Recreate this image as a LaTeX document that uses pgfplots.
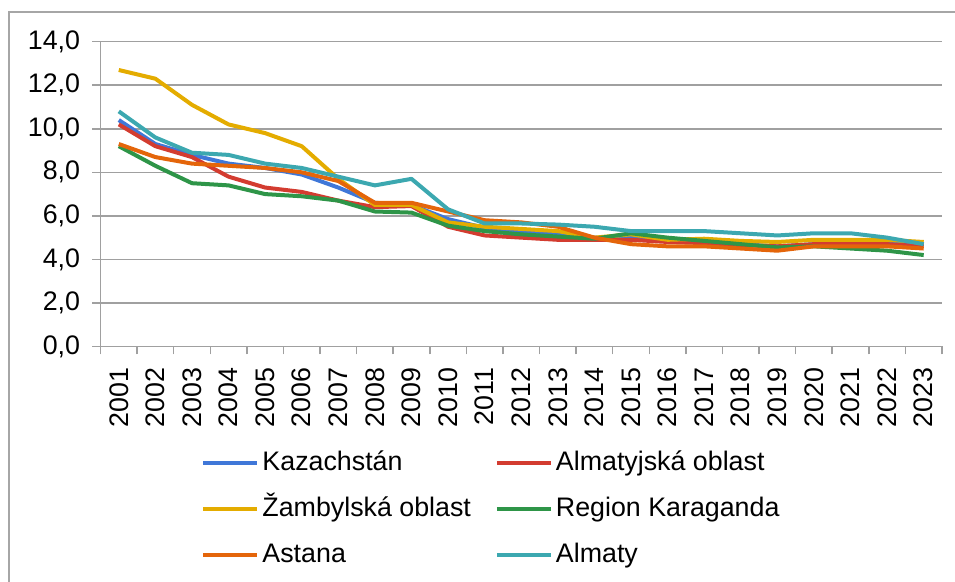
\documentclass[border=0pt]{standalone}
\usepackage{pgfplots}
\pgfplotsset{compat=1.18}
\usepackage{fontspec}
\setmainfont{Liberation Sans}
\definecolor{cKaz}{HTML}{3F77D8}
\definecolor{cAO}{HTML}{D33C30}
\definecolor{cZam}{HTML}{E4AC00}
\definecolor{cKar}{HTML}{2E9548}
\definecolor{cAst}{HTML}{E4650A}
\definecolor{cAlm}{HTML}{3CA8B0}
\definecolor{axGray}{HTML}{A0A0A0}
\definecolor{frGray}{HTML}{A6A6A6}
\pgfplotstableread{
x Kaz AO Zam Kar Ast Alm
0 10.4 10.2 12.7 9.2 9.3 10.8
1 9.3 9.2 12.3 8.3 8.7 9.6
2 8.8 8.7 11.1 7.5 8.4 8.9
3 8.4 7.8 10.2 7.4 8.3 8.8
4 8.2 7.3 9.8 7.0 8.2 8.4
5 7.9 7.1 9.2 6.9 8.0 8.2
6 7.3 6.7 7.7 6.7 7.6 7.8
7 6.6 6.4 6.5 6.2 6.6 7.4
8 6.5 6.45 6.5 6.15 6.6 7.7
9 5.85 5.5 5.7 5.55 6.2 6.3
10 5.45 5.1 5.5 5.3 5.8 5.65
11 5.3 5.0 5.4 5.15 5.7 5.65
12 5.2 4.9 5.3 5.05 5.5 5.6
13 5.0 4.9 5.0 4.95 5.0 5.5
14 5.0 4.9 5.15 5.2 4.7 5.3
15 4.85 4.8 4.9 5.0 4.6 5.3
16 4.8 4.75 4.95 4.85 4.6 5.3
17 4.7 4.65 4.85 4.7 4.5 5.2
18 4.6 4.6 4.8 4.55 4.4 5.1
19 4.7 4.7 4.9 4.6 4.6 5.2
20 4.8 4.7 4.9 4.5 4.6 5.2
21 4.8 4.7 4.9 4.4 4.6 5.0
22 4.7 4.6 4.8 4.2 4.5 4.7
}\data
\begin{document}
\begin{tikzpicture}[font=\fontsize{13.4}{15}\selectfont]
\useasboundingbox (0,0) rectangle (477.5pt,291pt);
\draw[color=frGray, line width=0.75pt] (4.5pt,-2pt) -- (4.5pt,285pt) -- (480pt,285pt);
\begin{axis}[
  at={(50.25pt,117.75pt)}, anchor=south west, scale only axis,
  width=420.75pt, height=152.4pt,
  xmin=-0.5, xmax=22.5, ymin=0, ymax=14,
  axis lines=left, axis line style={-, draw=axGray, line width=0.75pt},
  ytick={0,2,...,14}, ymajorgrids, grid style={draw=axGray, line width=0.75pt},
  tick align=outside, major tick length=4pt,
  tick style={draw=axGray, line width=0.75pt},
  xtick={-0.5,0.5,...,22.5}, xticklabels={},
  extra x ticks={0,1,...,22},
  extra x tick labels={2001,2002,2003,2004,2005,2006,2007,2008,2009,2010,2011,2012,2013,2014,2015,2016,2017,2018,2019,2020,2021,2022,2023},
  extra x tick style={major tick length=0pt, tick label style={yshift=-10.5pt, rotate=90, anchor=east, inner sep=0pt}},
  yticklabel style={/pgf/number format/.cd, fixed, fixed zerofill, precision=1, use comma, assume math mode=true, /tikz/.cd, anchor=east, inner sep=0pt, xshift=-6pt},
  legend columns=2, legend cell align=left,
  legend image code/.code={\draw[line width=2pt] (0pt,0pt) -- (27pt,0pt);},
  legend style={at={(0.1200,-0.3396)}, anchor=north west, draw=none, fill=none,
    inner sep=0pt, outer sep=0pt, row sep=10pt, column sep=0pt,
    nodes={inner xsep=1.5pt, inner ysep=0pt, text height=10pt, text depth=3pt},
    /tikz/every even column/.append style={column sep=10.5pt}},
  every axis plot/.append style={line width=2pt, line join=round, no markers},
]
\addplot[cKaz] table[x=x,y=Kaz] {\data}; \addlegendentry{Kazachstán}
\addplot[cAO] table[x=x,y=AO] {\data}; \addlegendentry{Almatyjská oblast}
\addplot[cZam] table[x=x,y=Zam] {\data}; \addlegendentry{Žambylská oblast}
\addplot[cKar] table[x=x,y=Kar] {\data}; \addlegendentry{Region Karaganda}
\addplot[cAst] table[x=x,y=Ast] {\data}; \addlegendentry{Astana}
\addplot[cAlm] table[x=x,y=Alm] {\data}; \addlegendentry{Almaty}
\end{axis}
\end{tikzpicture}
\end{document}
